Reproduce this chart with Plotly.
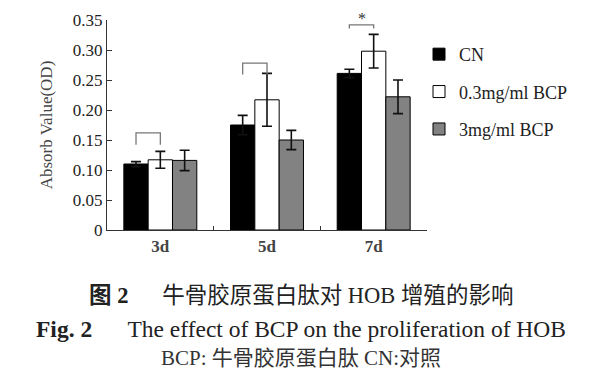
import plotly.graph_objects as go

categories = ["3d", "5d", "7d"]
series_names = ["CN", "0.3mg/ml BCP", "3mg/ml BCP"]
cn_values = [0.110, 0.175, 0.261]
cn_errors = [0.004, 0.016, 0.007]
low_values = [0.117, 0.217, 0.298]
low_errors = [0.014, 0.044, 0.028]
high_values = [0.116, 0.150, 0.222]
high_errors = [0.017, 0.016, 0.028]
bracket_top = [0.162, 0.278, 0.342]
bracket_drop = [0.020, 0.019, 0.006]
bracket_marks = ["", "", "*"]
y_ticks = [0, 0.05, 0.10, 0.15, 0.20, 0.25, 0.30, 0.35]
y_tick_labels = ["0", "0.05", "0.10", "0.15", "0.20", "0.25", "0.30", "0.35"]
caption_cn = "<b>图 2</b>\u2003\u2002牛骨胶原蛋白肽对 HOB 增殖的影响"
caption_en = "<b>Fig. 2</b>\u2003\u2002The effect of BCP on the proliferation of HOB"
caption_note = "BCP: 牛骨胶原蛋白肽 CN:对照"

SERIF = "Liberation Serif, Times New Roman, Noto Sans CJK SC, serif"
colors = ["#000000", "#ffffff", "#828282"]
values = [cn_values, low_values, high_values]
errors = [cn_errors, low_errors, high_errors]

bargap = 0.316
bar_w = (1 - bargap) / 3

fig = go.Figure()
for k in range(3):
    fig.add_trace(go.Bar(
        x=categories, y=values[k], name=series_names[k],
        marker=dict(color=colors[k], line=dict(color="#000000", width=1)),
        error_y=dict(type="data", array=errors[k], visible=True,
                     color="#111111", thickness=1.6, width=5),
        legendgroup=series_names[k],
    ))

shapes = []
annotations = []
for i, cat in enumerate(categories):
    x0 = i - bar_w
    x1 = i
    top = bracket_top[i]
    bottom = top - bracket_drop[i]
    shapes.append(dict(
        type="path", xref="x", yref="y",
        path=f"M {x0},{bottom} L {x0},{top} L {x1},{top} L {x1},{bottom}",
        line=dict(color="#777777", width=1.3),
    ))
    if bracket_marks[i]:
        annotations.append(dict(
            x=(x0 + x1) / 2, y=top, xref="x", yref="y", text=bracket_marks[i],
            showarrow=False, yanchor="bottom", yshift=-4,
            font=dict(family=SERIF, size=16, color="#333333"),
        ))

cap_x = 0.606
annotations += [
    dict(x=cap_x, y=-0.31, xref="paper", yref="paper", text=caption_cn,
         showarrow=False, xanchor="center", yanchor="middle",
         font=dict(family=SERIF, size=22.5, color="#222222")),
    dict(x=cap_x, y=-0.471, xref="paper", yref="paper", text=caption_en,
         showarrow=False, xanchor="center", yanchor="middle",
         font=dict(family=SERIF, size=23.5, color="#222222")),
    dict(x=cap_x, y=-0.61, xref="paper", yref="paper", text=caption_note,
         showarrow=False, xanchor="center", yanchor="middle",
         font=dict(family=SERIF, size=21, color="#333333")),
]

fig.update_layout(
    width=597, height=373,
    margin=dict(l=99, r=178, t=12, b=151),
    paper_bgcolor="white", plot_bgcolor="white",
    barmode="group", bargap=bargap, bargroupgap=0,
    showlegend=True,
    legend=dict(x=0.975, xanchor="left", y=0.924, yanchor="top",
                font=dict(family=SERIF, size=18, color="#222222"),
                tracegroupgap=11, itemwidth=30, bgcolor="rgba(0,0,0,0)"),
    shapes=shapes, annotations=annotations,
    xaxis=dict(
        type="category", range=[-0.5, 2.5], showline=True, linecolor="#333333",
        linewidth=1.3, ticks="inside", ticklen=4, tickcolor="#333333",
        tickson="boundaries", showgrid=False, zeroline=False, automargin=False,
        tickfont=dict(family=SERIF, size=17, color="#444444", weight="bold"),
    ),
    yaxis=dict(
        range=[0, 0.35], tickvals=y_ticks, ticktext=y_tick_labels,
        showline=True, linecolor="#333333", linewidth=1.3,
        ticks="inside", ticklen=5, tickcolor="#333333",
        showgrid=False, zeroline=False, automargin=False,
        tickfont=dict(family=SERIF, size=17, color="#222222"),
        title=dict(text="Absorb Value(OD)", standoff=15,
                   font=dict(family=SERIF, size=17, color="#444444")),
    ),
)

fig.write_html("out.html")
